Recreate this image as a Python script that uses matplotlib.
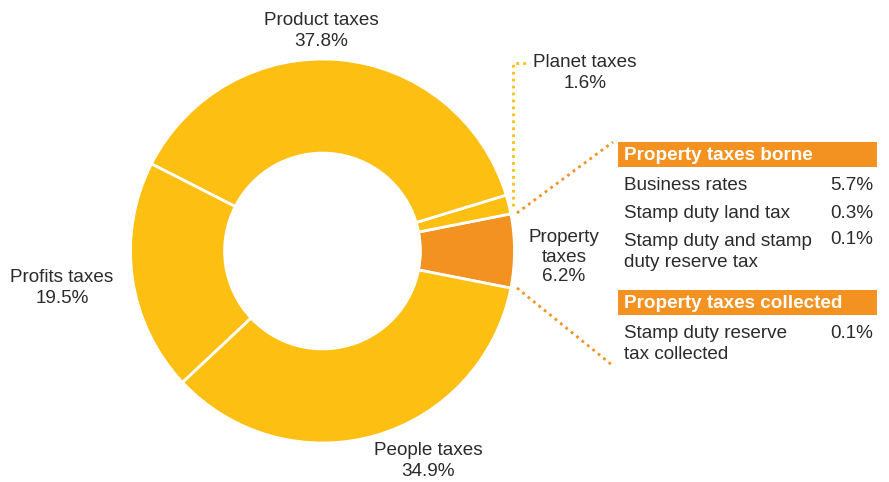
import matplotlib
matplotlib.use("Agg")
import matplotlib.pyplot as plt
from matplotlib.patches import Rectangle

plt.rcParams["font.family"] = ["Liberation Sans", "DejaVu Sans"]

# Share of total tax contribution by tax type
categories = ["Property taxes", "Planet taxes", "Product taxes", "Profits taxes", "People taxes"]
shares = [6.2, 1.6, 37.8, 19.5, 34.9]

# Breakdown of property taxes
borne_items = ["Business rates", "Stamp duty land tax", "Stamp duty and stamp\nduty reserve tax"]
borne_values = [5.7, 0.3, 0.1]
collected_items = ["Stamp duty reserve\ntax collected"]
collected_values = [0.1]

YELLOW = "#FDBF12"
ORANGE = "#F39220"
TEXT = "#2b2b2b"
FS = 13.6

W, H = 889, 482
fig = plt.figure(figsize=(W / 100, H / 100), dpi=100)
ax = fig.add_axes([0, 0, 1, 1])


def py(y):
    """Convert a top-down pixel row to data y."""
    return H - y


cx, cy, R = 322.5, 251, 192
colors = [ORANGE if c == "Property taxes" else YELLOW for c in categories]
ax.pie(shares, colors=colors, startangle=-11.15, counterclock=True,
       center=(cx, py(cy)), radius=R,
       wedgeprops=dict(width=R * 0.49, edgecolor="white", linewidth=2),
       frame=True)
ax.set_xlim(0, W)
ax.set_ylim(0, H)
ax.set_aspect("equal")
ax.axis("off")

lab = dict(ha="center", va="center", fontsize=FS, color=TEXT, linespacing=1.3)
share = dict(zip(categories, shares))
ax.text(321, py(31), f"Product taxes\n{share['Product taxes']:.1f}%", **lab)
ax.text(585, py(73), f"Planet taxes\n{share['Planet taxes']:.1f}%", **lab)
ax.text(62, py(288), f"Profits taxes\n{share['Profits taxes']:.1f}%", **lab)
ax.text(428, py(461), f"People taxes\n{share['People taxes']:.1f}%", **lab)
ax.text(564, py(257), f"Property\ntaxes\n{share['Property taxes']:.1f}%",
        ha="center", va="center", fontsize=FS, color=TEXT, linespacing=1.22)

# Leader lines
dots = (0, (1, 1.5))
ax.plot([513, 513, 530], [py(206), py(63), py(63)], color=YELLOW, lw=2, linestyle=dots)
ax.plot([517, 613], [py(213), py(142)], color=ORANGE, lw=2, linestyle=dots)
ax.plot([517, 612], [py(288), py(365)], color=ORANGE, lw=2, linestyle=dots)

# Breakdown table
x0, x1 = 618, 877
tx, vx = 624, 873


def header(y_top, text):
    ax.add_patch(Rectangle((x0, py(y_top + 25)), x1 - x0, 25, color=ORANGE, lw=0))
    ax.text(tx, py(y_top + 13), text, ha="left", va="center", fontsize=FS,
            color="white", fontweight="bold")


header(142, "Property taxes borne")
rows_y = [185, 213, 252]
for item, val, y in zip(borne_items, borne_values, rows_y):
    if "\n" in item:
        ax.text(tx, py(y), item, ha="left", va="center", fontsize=FS, color=TEXT, linespacing=1.38)
        ax.text(vx, py(y - 12), f"{val:.1f}%", ha="right", va="center", fontsize=FS, color=TEXT)
    else:
        ax.text(tx, py(y), item, ha="left", va="center", fontsize=FS, color=TEXT)
        ax.text(vx, py(y), f"{val:.1f}%", ha="right", va="center", fontsize=FS, color=TEXT)

header(290, "Property taxes collected")
for item, val in zip(collected_items, collected_values):
    ax.text(tx, py(344), item, ha="left", va="center", fontsize=FS, color=TEXT, linespacing=1.25)
    ax.text(vx, py(333), f"{val:.1f}%", ha="right", va="center", fontsize=FS, color=TEXT)

fig.savefig("out.png", dpi=100, facecolor="white")
